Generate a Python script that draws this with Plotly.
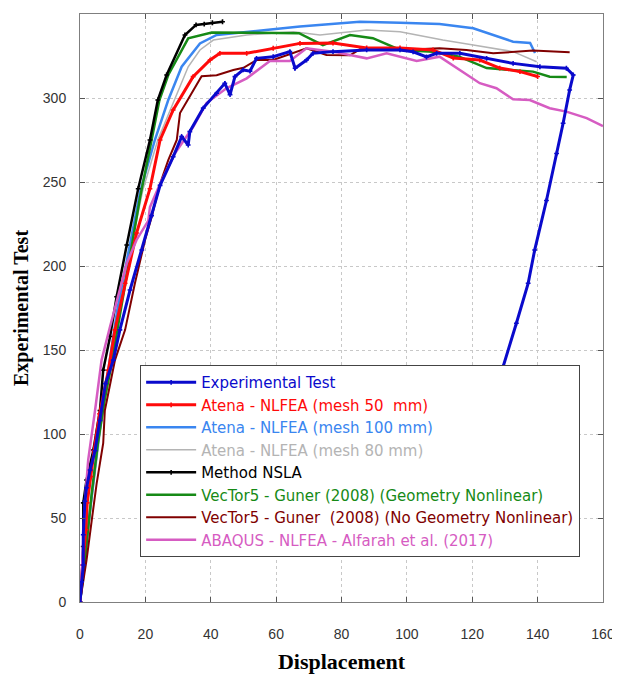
import plotly.graph_objects as go

# ---------------- data ----------------
exp_x = [0, 0.5, 1, 1, 1.5, 2, 3.1, 4.6, 6.1, 7.8, 10.2, 12.2, 15.3, 18.9, 21.9, 24.5, 28.5, 31.1, 33.1, 33.6,
         37.7, 41.8, 44.3, 45.9, 47.4, 49.9, 52, 54, 59.1, 64.2, 65.8, 69.3, 71.3, 77.4, 87.7, 97.9, 101.9,
         106, 109.1, 116.2, 124.4, 132.5, 140.7, 148.8, 150.9, 149.8, 147.8, 145.8, 142.7, 139.1, 137.1,
         133.5, 129.4, 124, 120]
exp_y = [0, 12, 22, 40, 60, 68, 78.6, 90, 108, 130, 144, 162, 185.7, 209.5, 230, 248, 265, 277, 272, 280,
         294, 302.8, 308.7, 302, 312.7, 316.7, 316, 323.6, 324.6, 327.6, 317.7, 322.6, 326.6, 327.6, 328.6,
         328.6, 327.5, 324.4, 326.6, 326.6, 323.6, 320.6, 318.6, 317.7, 313.7, 304.8, 285, 267, 239, 209.5,
         189.7, 165.9, 140, 105, 80]

a50_x = [0, 0.8, 1.8, 2.2, 3.3, 4.3, 6, 8.7, 10.7, 13.8, 17.3, 21.4, 24.5, 28.5, 34.6, 39.8, 42.8, 51,
         59.1, 67.3, 77.4, 87.7, 97.9, 108, 114.2, 122.3, 128.4, 134.6, 140]
a50_y = [0, 22, 43, 59, 74.6, 90, 112, 138, 162, 189.7, 219.6, 246, 275, 292.9, 312.7, 322.6, 326.6, 326.6,
         329.6, 332.5, 332.7, 329.8, 329.8, 328.6, 323.8, 322.6, 317.8, 315.7, 312.8]

a100_x = [0, 1, 2.2, 3.6, 5.5, 8, 11.5, 15, 18.5, 22.9, 27, 31.1, 36.7, 41.8, 51, 59.1, 67.3, 73.4, 85.6,
          97.9, 110, 120.3, 126.4, 132.5, 137.7, 139.2]
a100_y = [0, 15, 40, 65, 95, 130, 175, 210, 245, 275, 298.8, 318.6, 332.5, 337.5, 339.5, 340.9, 342.5,
          343.5, 345.4, 344.8, 344, 341.5, 337.5, 333.5, 332.7, 326.8]

a80_x = [0, 1, 2.3, 3.8, 5.8, 8.3, 12, 15.5, 19.2, 23.8, 29, 33.1, 36.7, 40.8, 51, 65.3, 73.4, 87.7, 97.9,
         111, 120.3, 132.5, 139.7]
a80_y = [0, 15, 40, 65, 95, 130, 175, 210, 245, 275, 298.8, 318.6, 328.6, 334.5, 337.5, 339.5, 337.5,
         340.5, 339.5, 334.5, 331.5, 327.6, 321.6]

nsla_x = [0, 0.5, 1, 1, 2, 4.1, 6.1, 7.1, 9.2, 11.2, 14.3, 17.8, 21.4, 23.8, 26.5, 32.1, 35.5, 38, 40.5, 43.6]
nsla_y = [0, 13, 33, 59, 72.6, 90.5, 114, 138, 158, 181.7, 212.5, 246, 275, 298.8, 313.7, 337.5, 343.5,
          344, 344.8, 345.4]

vg_x = [0, 1.5, 3.6, 5.5, 7.5, 9.5, 11.7, 14.8, 18.3, 21.9, 24.3, 27, 33.1, 40.3, 55, 67, 74.3, 82.6,
        89.6, 97.9, 108, 116, 124.4, 132.5, 138.6, 143.7, 148.9]
vg_y = [0, 25, 65, 95, 120, 140, 165, 200, 240, 275, 298.8, 313.7, 335.5, 339, 339, 338.6, 331.5, 337.5,
        335.6, 328.6, 327.5, 324.6, 317.8, 316.7, 315.7, 312.7, 312.5]

vn_x = [0, 2, 3.6, 5.1, 7.1, 7.6, 10.7, 13.8, 16.8, 19.9, 21.9, 24.5, 27, 29.6, 30.6, 37.2, 41.8, 46.9,
        50, 54, 59.1, 65.3, 69.3, 75.4, 82.6, 85.6, 97.9, 110, 118.2, 126.4, 138.6, 149.8]
vn_y = [0, 25, 48.8, 70.6, 94.5, 114, 144, 162, 189.7, 215.5, 229, 249, 263, 275, 291, 313, 313.5, 316.7,
        318, 322.6, 322.6, 326.6, 329.6, 325.6, 325.4, 329, 328.6, 329.6, 328.6, 326.6, 328.2, 327.2]

ab_x = [0, 0.5, 1.5, 2.5, 4.6, 6.6, 9.2, 11.7, 14.3, 17.3, 20.9, 21.4, 24.5, 29, 34.6, 38.7, 44.8, 51,
        58.1, 64.2, 69.3, 77.4, 87.7, 93.8, 103, 110, 116.2, 122.3, 127.4, 132.5, 137.6, 143.7, 148.8,
        155, 160]
ab_y = [0, 15, 59, 84.5, 114, 144, 164, 181.7, 201.6, 215.5, 227, 235, 249, 267, 282.7, 297, 305.8, 311.7,
        322, 322, 329.6, 327.6, 323.6, 326.6, 322, 324.6, 316.7, 308.8, 305.8, 299.2, 298.8, 293.9, 291.9,
        288, 283.3]

x_ticks = [0, 20, 40, 60, 80, 100, 120, 140, 160]
y_ticks = [0, 50, 100, 150, 200, 250, 300, 350]

# (name, x, y, color, width, markers, legend rank) in drawing order
series = [
    ("Atena - NLFEA (mesh 80 mm)", a80_x, a80_y, "#B4B4B4", 1.5, False, 4),
    ("Atena - NLFEA (mesh 100 mm)", a100_x, a100_y, "#3A86F0", 2.5, False, 3),
    ("VecTor5 - Guner (2008) (Geometry Nonlinear)", vg_x, vg_y, "#168A16", 2.5, False, 6),
    ("VecTor5 - Guner\u00a0 (2008) (No Geometry Nonlinear)", vn_x, vn_y, "#800000", 2, False, 7),
    ("Method NSLA", nsla_x, nsla_y, "#000000", 2.5, True, 5),
    ("Atena - NLFEA (mesh 50\u00a0 mm)", a50_x, a50_y, "#FF0A0A", 3, True, 2),
    ("ABAQUS - NLFEA - Alfarah et al. (2017)", ab_x, ab_y, "#D65CC2", 2.5, False, 8),
    ("Experimental Test", exp_x, exp_y, "#0A0ACC", 3, True, 1),
]

fig = go.Figure()
for name, xs, ys, col, w, mk, rank in series:
    fig.add_trace(go.Scatter(
        x=xs, y=ys,
        mode="lines+markers" if mk else "lines",
        name=f"<span style='color:{col}'>{name}</span>",
        line=dict(color=col, width=w),
        marker=dict(symbol="cross", size=4, color=col) if mk else None,
        legendrank=rank,
    ))

axis_common = dict(
    showline=True, linecolor="#7F7F7F", linewidth=1, mirror="ticks",
    ticks="inside", ticklen=5, tickcolor="#555555",
    showgrid=True, gridcolor="#C8C8C8", griddash="dot", gridwidth=1,
    zeroline=False, automargin=False,
    tickfont=dict(family="Liberation Sans, Arial", size=14, color="#333333"),
)

fig.update_xaxes(range=[0, 160], tickvals=x_ticks, ticklabelstandoff=19,
                 title=dict(text="<b>Displacement</b>", standoff=12,
                            font=dict(family="Liberation Serif, Times New Roman", size=22, color="#000")),
                 **axis_common)
fig.update_yaxes(range=[0, 350], tickvals=y_ticks, ticklabelstandoff=10,
                 title=dict(text="<b>Experimental Test</b>", standoff=8,
                            font=dict(family="Liberation Serif, Times New Roman", size=20, color="#000")),
                 **axis_common)

# page body adds an 8px offset; margins compensate so the plot area lands at the reference position
fig.update_layout(
    width=620, height=678,
    margin=dict(l=72, r=25, t=6, b=84),
    plot_bgcolor="white", paper_bgcolor="white",
    legend=dict(x=0.115, y=0.403, xanchor="left", yanchor="top",
                bgcolor="white", bordercolor="#444444", borderwidth=1,
                font=dict(family="DejaVu Sans", size=15),
                traceorder="normal", itemwidth=50),
    showlegend=True,
)

fig.write_html("out.html")
